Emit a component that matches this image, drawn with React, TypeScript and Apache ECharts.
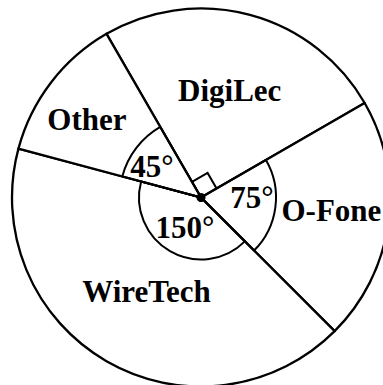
import React, { useEffect, useRef } from "react";
import * as echarts from "echarts";

// Data
const categories = ["DigiLec", "O-Fone", "WireTech", "Other"];
const angles = [90, 75, 150, 45];
const angleLabels = ["", "75°", "150°", "45°"];

// Layout (positions / styles)
const W = 383;
const H = 385;
const CX = 201;
const CY = 197.5;
const R = 189;
const START = 120;
const FONT = {
  fontFamily: "'Liberation Serif', 'Times New Roman', serif",
  fontWeight: "bold" as const,
  fontSize: 31,
  color: "#000",
};
const nameLabelPos = [
  { d: 111, off: 0 },
  { d: 131, off: 2 },
  { d: 109, off: 0 },
  { d: 138, off: 3.3 },
];
const arcStyle: ({ r: number; d: number; off: number } | null)[] = [
  null,
  { r: 75, d: 51, off: 7 },
  { r: 62, d: 33.6, off: 1.5 },
  { r: 81.5, d: 57.7, off: 5.5 },
];
const SQUARE = 18;

function sliceStart(i: number) {
  let s = START;
  for (let j = 0; j < i; j++) s -= angles[j];
  return s;
}
function midAngle(i: number) {
  return sliceStart(i) - angles[i] / 2;
}
function polar(d: number, deg: number): [number, number] {
  const a = (deg * Math.PI) / 180;
  return [CX + d * Math.cos(a), CY - d * Math.sin(a)];
}

export default function App() {
  const ref = useRef<HTMLDivElement>(null);
  useEffect(() => {
    if (!ref.current) return;
    const chart = echarts.init(ref.current, null, { renderer: "svg" });
    const series: any[] = [];
    series.push({
      type: "pie",
      silent: true,
      startAngle: START,
      clockwise: true,
      center: [CX, CY],
      radius: [0, R],
      avoidLabelOverlap: false,
      itemStyle: { color: "#fff", borderColor: "#000", borderWidth: 2.3 },
      label: { show: true, position: "inside", formatter: "{b}", ...FONT },
      labelLine: { show: false },
      labelLayout: (p: any) => {
        const i = p.dataIndex;
        const [x, y] = polar(nameLabelPos[i].d, midAngle(i) + nameLabelPos[i].off);
        return { x, y, align: "center", verticalAlign: "middle" };
      },
      data: categories.map((n, i) => ({ name: n, value: angles[i] })),
      z: 1,
    });
    arcStyle.forEach((a, i) => {
      if (!a) return;
      series.push({
        type: "pie",
        silent: true,
        startAngle: START,
        clockwise: true,
        center: [CX, CY],
        radius: [0, a.r],
        avoidLabelOverlap: false,
        itemStyle: { color: "rgba(0,0,0,0)", borderWidth: 0 },
        label: { show: false },
        labelLine: { show: false },
        labelLayout: () => {
          const [x, y] = polar(a.d, midAngle(i) + a.off);
          return { x, y, align: "center", verticalAlign: "middle" };
        },
        data: categories.map((n, j) => ({
          name: n,
          value: angles[j],
          itemStyle:
            j === i
              ? { color: "rgba(0,0,0,0)", borderColor: "#000", borderWidth: 2 }
              : { color: "rgba(0,0,0,0)", borderWidth: 0 },
          label:
            j === i
              ? { show: true, position: "inside", formatter: angleLabels[i], ...FONT }
              : { show: false },
        })),
        z: 2,
      });
    });
    series.push({
      type: "pie",
      silent: true,
      center: [CX, CY],
      radius: [0, 4.5],
      data: [{ name: "", value: 1 }],
      itemStyle: { color: "#000" },
      label: { show: false },
      labelLine: { show: false },
      z: 3,
    });

    const graphic: any[] = [];
    angles.forEach((v, i) => {
      if (v !== 90) return;
      const a1 = (sliceStart(i) * Math.PI) / 180;
      const a2 = ((sliceStart(i) - v) * Math.PI) / 180;
      const p1 = [CX + SQUARE * Math.cos(a1), CY - SQUARE * Math.sin(a1)];
      const p2 = [
        CX + SQUARE * (Math.cos(a1) + Math.cos(a2)),
        CY - SQUARE * (Math.sin(a1) + Math.sin(a2)),
      ];
      const p3 = [CX + SQUARE * Math.cos(a2), CY - SQUARE * Math.sin(a2)];
      graphic.push({
        type: "polyline",
        shape: { points: [p1, p2, p3] },
        style: { stroke: "#000", lineWidth: 2, fill: null },
        z: 100,
      });
    });

    chart.setOption({
      animation: false,
      backgroundColor: "#fff",
      series,
      graphic,
    });
    return () => chart.dispose();
  }, []);
  return (
    <div
      ref={ref}
      style={{ position: "absolute", left: 0, top: 0, width: W, height: H }}
    />
  );
}
